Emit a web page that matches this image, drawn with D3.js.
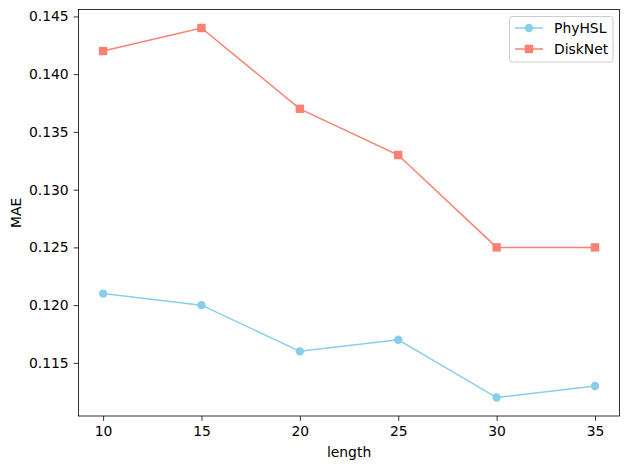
<!DOCTYPE html>
<html><head><meta charset="utf-8">
<script src="https://cdn.jsdelivr.net/npm/d3@7"></script>
<style>body{margin:0;background:#fff}svg{display:block}text{font-family:"DejaVu Sans",sans-serif}</style>
</head><body><svg id="c" width="630" height="469"></svg>
<script>
const lengths = [10, 15, 20, 25, 30, 35];
const phyhsl = [0.121, 0.120, 0.116, 0.117, 0.112, 0.113];
const disknet = [0.142, 0.144, 0.137, 0.133, 0.125, 0.125];
const xTicks = [10, 15, 20, 25, 30, 35];
const yTicks = [0.115, 0.120, 0.125, 0.130, 0.135, 0.140, 0.145];
const seriesNames = ["PhyHSL", "DiskNet"];
const colors = ["#87CEEB", "#FA8072"];

const svg = d3.select("#c");
const L = 78.5, R = 619.6, T = 9.5, B = 416;
const x = d3.scaleLinear().domain([8.75, 36.25]).range([L, R]);
const y = d3.scaleLinear().domain([0.1104, 0.1456]).range([B, T]);

const fs = "13.9px";
const xa = svg.append("g").attr("transform", `translate(0,${B})`)
  .call(d3.axisBottom(x).tickValues(xTicks).tickSize(4.9).tickPadding(4.9).tickFormat(d3.format("d")));
const ya = svg.append("g").attr("transform", `translate(${L},0)`)
  .call(d3.axisLeft(y).tickValues(yTicks).tickSize(4.9).tickPadding(4.9).tickFormat(d3.format(".3f")));
[xa, ya].forEach(a => {
  a.select(".domain").remove();
  a.selectAll("text").style("font-size", fs).attr("fill", "#000").style("font-family", "DejaVu Sans");
  a.selectAll("line").attr("stroke", "#000").attr("stroke-width", 0.8);
});
svg.append("rect").attr("x", L).attr("y", T).attr("width", R - L).attr("height", B - T)
  .attr("fill", "none").attr("stroke", "#000").attr("stroke-width", 0.8);

svg.append("text").attr("x", (L + R) / 2).attr("y", 457).attr("text-anchor", "middle")
  .style("font-size", fs).text("length");
svg.append("text").attr("transform", `translate(21,${(T + B) / 2}) rotate(-90)`).attr("text-anchor", "middle")
  .style("font-size", fs).text("MAE");

const data = [phyhsl, disknet];
const line = d3.line().x((d, i) => x(lengths[i])).y(d => y(d));
data.forEach((s, k) => {
  svg.append("path").datum(s).attr("d", line).attr("fill", "none").attr("stroke", colors[k]).attr("stroke-width", 1.5);
  const g = svg.append("g");
  s.forEach((v, i) => {
    if (k === 0) g.append("circle").attr("cx", x(lengths[i])).attr("cy", y(v)).attr("r", 4.2).attr("fill", colors[k]);
    else g.append("rect").attr("x", x(lengths[i]) - 4.2).attr("y", y(v) - 4.2).attr("width", 8.4).attr("height", 8.4).attr("fill", colors[k]);
  });
});

// legend
const lg = svg.append("g");
lg.append("rect").attr("x", 509.5).attr("y", 16.5).attr("width", 103.5).attr("height", 45.5).attr("rx", 2.5)
  .attr("fill", "#fff").attr("fill-opacity", 0.8).attr("stroke", "#ccc").attr("stroke-width", 1);
seriesNames.forEach((n, k) => {
  const yy = 28 + k * 21;
  lg.append("line").attr("x1", 515).attr("x2", 543).attr("y1", yy).attr("y2", yy).attr("stroke", colors[k]).attr("stroke-width", 1.5);
  if (k === 0) lg.append("circle").attr("cx", 529).attr("cy", yy).attr("r", 4.2).attr("fill", colors[k]);
  else lg.append("rect").attr("x", 529 - 4.2).attr("y", yy - 4.2).attr("width", 8.4).attr("height", 8.4).attr("fill", colors[k]);
  lg.append("text").attr("x", 554).attr("y", yy).attr("dy", "0.35em").style("font-size", fs).text(n);
});
</script></body></html>
